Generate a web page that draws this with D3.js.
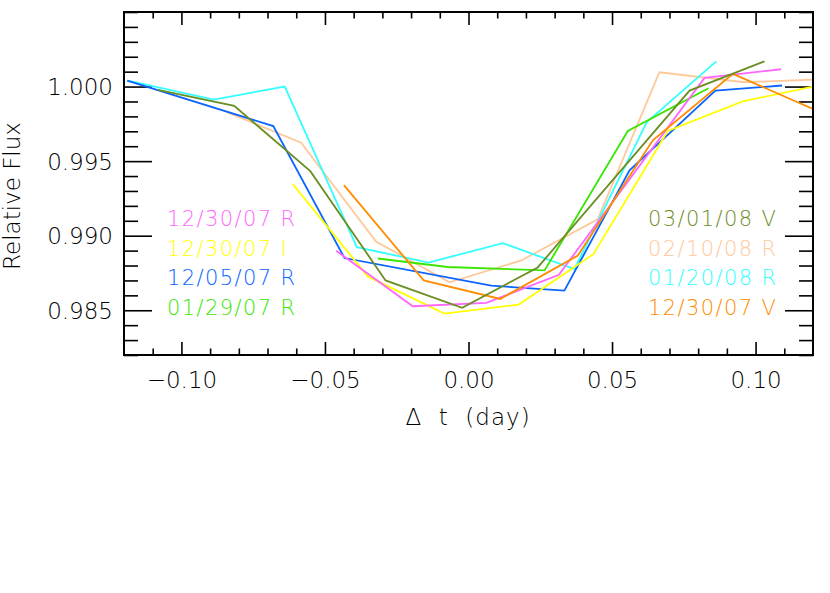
<!DOCTYPE html>
<html>
<head>
<meta charset="utf-8">
<script src="https://cdn.jsdelivr.net/npm/d3@7"></script>
<style>
  body { margin: 0; background: #fff; }
  svg text { font-family: "DejaVu Sans", sans-serif; font-weight: 200; }
</style>
</head>
<body>
<svg id="graph" width="830" height="593"></svg>
<script>
// light curves, [delta t (day), relative flux]
const s123007R = [[-0.0461,0.98899],[-0.0194,0.98527],[0.0062,0.98549],[0.0315,0.98738],[0.0822,1.00058],[0.1089,1.00116]];
const s123007I = [[-0.0612,0.99346],[-0.0351,0.98727],[-0.0084,0.98478],[0.0175,0.98538],[0.0435,0.98876],[0.0694,0.99702],[0.0955,0.99900],[0.1200,1.00000]];
const s120507R = [[-0.1189,1.00040],[-0.0680,0.99735],[-0.0432,0.98850],[0.0079,0.98665],[0.0334,0.98632],[0.0561,0.99439],[0.0860,0.99973],[0.1092,1.00007]];
const s012907R = [[-0.0316,0.98847],[-0.0072,0.98790],[0.0265,0.98767],[0.0555,0.99702],[0.0836,0.99989]];
const s030108V = [[-0.1082,0.99978],[-0.0816,0.99871],[-0.0551,0.99433],[-0.0289,0.98700],[-0.0022,0.98516],[0.0241,0.98787],[0.0770,0.99973],[0.1031,1.00169]];
const s021008R = [[-0.0842,0.99829],[-0.0583,0.99624],[-0.0322,0.98961],[-0.0066,0.98687],[0.0184,0.98834],[0.0450,0.99110],[0.0665,1.00096],[0.0961,1.00029],[0.1200,1.00047]];
const s012008R = [[-0.1187,1.00040],[-0.0888,0.99913],[-0.0640,1.00000],[-0.0389,0.98923],[-0.0139,0.98820],[0.0120,0.98950],[0.0369,0.98776],[0.0621,0.99762],[0.0863,1.00169]];
const s123007V = [[-0.0434,0.99339],[-0.0156,0.98700],[0.0111,0.98576],[0.0381,0.98867],[0.0642,0.99640],[0.0921,1.00085],[0.1200,0.99850]];

const leftLabels  = ["12/30/07 R", "12/30/07 I", "12/05/07 R", "01/29/07 R"];
const rightLabels = ["03/01/08 V", "02/10/08 R", "01/20/08 R", "12/30/07 V"];
const xMajor = [-0.10, -0.05, 0.00, 0.05, 0.10];
const yMajor = [0.985, 0.990, 0.995, 1.000];

// series in drawing order with their colours
const series = [
  {name: "02/10/08 R", data: s021008R, color: "#ffc899"},
  {name: "01/20/08 R", data: s012008R, color: "#33ffff"},
  {name: "12/05/07 R", data: s120507R, color: "#0a64ff"},
  {name: "01/29/07 R", data: s012907R, color: "#3ae600"},
  {name: "12/30/07 I", data: s123007I, color: "#ffff00"},
  {name: "12/30/07 R", data: s123007R, color: "#ff66ff"},
  {name: "12/30/07 V", data: s123007V, color: "#ff8c00"},
  {name: "03/01/08 V", data: s030108V, color: "#6b8e23"}
];
const colorOf = {};
series.forEach(s => colorOf[s.name] = s.color);

var svg = d3.select("#graph"),
    margin = {top: 12, right: 17, bottom: 238, left: 124},
    width = 830 - margin.left - margin.right,
    height = 593 - margin.top - margin.bottom;

var g = svg.append("g")
    .attr("transform", "translate(" + margin.left + "," + margin.top + ")");

svg.append("defs").append("clipPath")
    .attr("id", "clip")
    .append("rect")
    .attr("width", width)
    .attr("height", height);

var x = d3.scaleLinear().domain([-0.12, 0.12]).range([0, width]);
var y = d3.scaleLinear().domain([0.982, 1.005]).range([height, 0]);

// minor ticks every 0.01 / 0.001
var xMinor = d3.range(-11, 12).map(d => d / 100).filter(d => !xMajor.some(m => Math.abs(m - d) < 1e-9));
var yMinor = d3.range(982, 1006).map(d => d / 1000).filter(d => !yMajor.some(m => Math.abs(m - d) < 1e-9));

var xLen = 13, yLen = 28;

// x axes (bottom with labels, top mirrored)
var xb = g.append("g").attr("transform", "translate(0," + height + ")")
    .call(d3.axisBottom(x).tickValues(xMajor).tickSize(-xLen).tickFormat(d3.format(".2f")));
xb.append("g").call(d3.axisBottom(x).tickValues(xMinor).tickSize(-xLen / 2).tickFormat(""));
xb.selectAll("text").attr("y", 33).attr("dy", 0).style("font-size", "23px").attr("fill", "#000");

var xt = g.append("g")
    .call(d3.axisTop(x).tickValues(xMajor).tickSize(-xLen).tickFormat(""));
xt.append("g").call(d3.axisTop(x).tickValues(xMinor).tickSize(-xLen / 2).tickFormat(""));

// y axes (left with labels, right mirrored)
var yl = g.append("g")
    .call(d3.axisLeft(y).tickValues(yMajor).tickSize(-yLen).tickFormat(d3.format(".3f")));
yl.append("g").call(d3.axisLeft(y).tickValues(yMinor).tickSize(-yLen / 2).tickFormat(""));
yl.selectAll("text").attr("x", -11).attr("dy", "0.36em").style("font-size", "23px").attr("fill", "#000");

var yr = g.append("g").attr("transform", "translate(" + width + ",0)")
    .call(d3.axisRight(y).tickValues(yMajor).tickSize(-yLen).tickFormat(""));
yr.append("g").call(d3.axisRight(y).tickValues(yMinor).tickSize(-yLen / 2).tickFormat(""));

g.selectAll(".domain").remove();
g.selectAll(".tick line").attr("stroke", "#000").attr("stroke-width", 1.6);

// data lines
var line = d3.line().x(d => x(d[0])).y(d => y(d[1]));
g.append("g").attr("clip-path", "url(#clip)")
  .selectAll("path").data(series).enter()
  .append("path")
    .attr("d", d => line(d.data))
    .attr("fill", "none")
    .attr("stroke", d => d.color)
    .attr("stroke-width", 1.8)
    .attr("stroke-linejoin", "miter");

// frame
g.append("rect")
    .attr("width", width).attr("height", height)
    .attr("fill", "none").attr("stroke", "#000").attr("stroke-width", 2);

// legends
function legend(labels, x0) {
  g.append("g").selectAll("text").data(labels).enter()
    .append("text")
      .attr("x", x0)
      .attr("y", (d, i) => 214 + i * 29.7)
      .attr("fill", d => colorOf[d])
      .style("font-size", "21px")
      .style("letter-spacing", "1.4px")
      .text(d => d);
}
legend(leftLabels, 43);
legend(rightLabels, 524);

// axis titles
svg.append("text")
    .attr("x", 468).attr("y", 425)
    .attr("text-anchor", "middle")
    .style("font-size", "23px")
    .style("white-space", "pre")
    .style("letter-spacing", "1px")
    .text("\u0394  t  (day)");

svg.append("text")
    .attr("transform", "translate(20,196) rotate(-90)")
    .attr("text-anchor", "middle")
    .style("font-size", "23px")
    .text("Relative Flux");
</script>
</body>
</html>
